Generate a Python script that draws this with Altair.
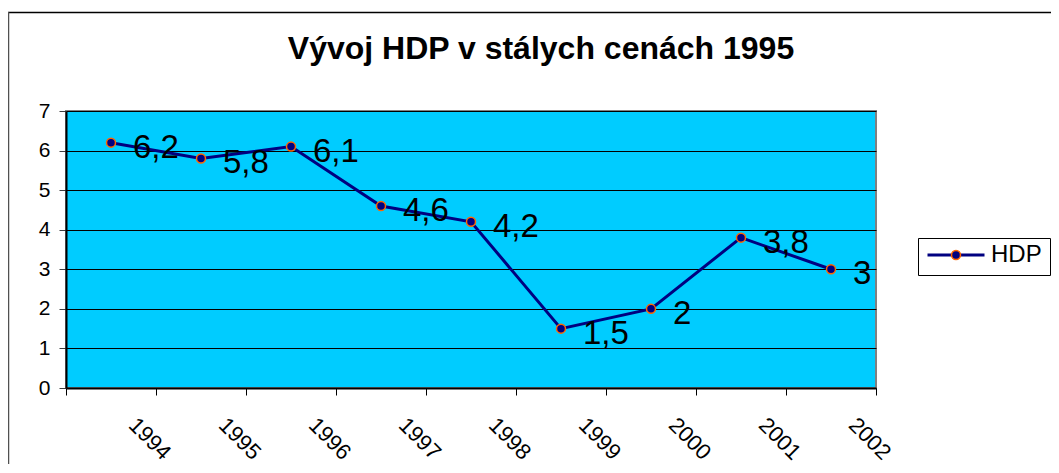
import altair as alt
import pandas as pd

years = ["1994", "1995", "1996", "1997", "1998", "1999", "2000", "2001", "2002"]
hdp = [6.2, 5.8, 6.1, 4.6, 4.2, 1.5, 2.0, 3.8, 3.0]
value_labels = ["6,2", "5,8", "6,1", "4,6", "4,2", "1,5", "2", "3,8", "3"]
series_name = "HDP"
y_ticks = [0, 1, 2, 3, 4, 5, 6, 7]

FONT = "Liberation Sans, Arial, sans-serif"

df = pd.DataFrame({
    "year": years,
    "hdp": hdp,
    "label": value_labels,
    "series": [series_name] * len(years),
    "series2": [series_name + " "] * len(years),
})

x_enc = alt.X(
    "year:O",
    sort=years,
    scale=alt.Scale(type="band", paddingInner=0, paddingOuter=0),
    axis=alt.Axis(
        title=None, tickBand="extent", grid=False,
        domainColor="#000000", domainWidth=2,
        tickColor="#000000", tickSize=7, tickWidth=1,
        labelFont=FONT, labelFontSize=22, labelColor="#000000",
        labelAngle=45, labelAlign="left", labelBaseline="middle",
        labelOffset=21, labelPadding=26,
    ),
)
y_enc = alt.Y(
    "hdp:Q",
    scale=alt.Scale(domain=[0, 7], nice=False),
    axis=alt.Axis(
        title=None, values=y_ticks, grid=True, gridColor="#000000", gridWidth=1,
        domainColor="#000000", domainWidth=2,
        tickColor="#404040", tickSize=7,
        labelFont=FONT, labelFontSize=21, labelColor="#000000", labelPadding=9,
    ),
)

base = alt.Chart(df)

line = base.mark_line(strokeWidth=3).encode(
    x=x_enc, y=y_enc,
    color=alt.Color(
        "series:N",
        scale=alt.Scale(range=["#000080"]),
        legend=alt.Legend(
            title=None, orient="none", legendX=852, legendY=127,
            symbolType="stroke", symbolSize=3249, symbolStrokeWidth=3,
            labelFont=FONT, labelFontSize=24, labelColor="#000000", labelOffset=5,
            strokeColor="#000000", padding=8, clipHeight=18, fillColor="#ffffff",
        ),
    ),
)

points = base.mark_point(filled=True, size=81, stroke="#FF6600", strokeWidth=1.5, opacity=1).encode(
    x=x_enc, y=y_enc,
    fill=alt.Fill(
        "series2:N",
        scale=alt.Scale(range=["#000080"]),
        legend=alt.Legend(
            title=None, orient="none", legendX=870, legendY=127,
            symbolType="circle", symbolSize=81, symbolStrokeColor="#FF6600",
            symbolStrokeWidth=1.5, symbolOpacity=1,
            labelFontSize=24, labelExpr="''", padding=8, clipHeight=18,
        ),
    ),
)

text = base.mark_text(
    align="left", baseline="alphabetic", dx=22, dy=15,
    font=FONT, fontSize=33, color="#000000",
).encode(x=x_enc, y=y_enc, text="label:N")

one = alt.Chart(pd.DataFrame({"a": [0]}))
frame_top = one.mark_rule(color="#000000", strokeWidth=1.5).encode(
    x=alt.value(-58), x2=alt.value(1100), y=alt.value(-98.5)
)
frame_left = one.mark_rule(color="#505050", strokeWidth=1.5).encode(
    x=alt.value(-57.5), y=alt.value(-99), y2=alt.value(500)
)

chart = alt.layer(line, points, text, frame_top, frame_left).properties(
    width=810,
    height=277,
    background="#ffffff",
    autosize=alt.AutoSizeParams(type="none"),
    padding={"left": 58, "top": 103, "right": 175, "bottom": 76},
    title=alt.TitleParams(
        "Vývoj HDP v stálych cenách 1995",
        font=FONT, fontSize=32, fontWeight="bold", color="#000000",
        anchor="middle", dx=70, baseline="alphabetic", offset=-80,
    ),
).configure_view(
    fill="#00CCFF", stroke="#808080", strokeWidth=2
)

chart.save("out.html", embed_options={"renderer": "svg", "actions": False})
